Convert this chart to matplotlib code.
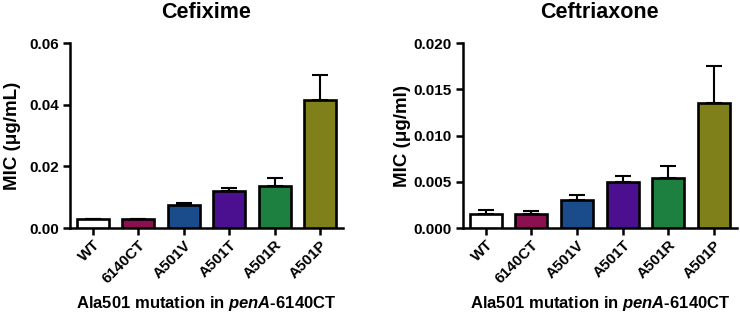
import matplotlib
matplotlib.use("Agg")
import matplotlib.pyplot as plt
import numpy as np

strains = ["WT", "6140CT", "A501V", "A501T", "A501R", "A501P"]
colors = ["#ffffff", "#8a1050", "#1a4c8c", "#4a1090", "#1e8040", "#80801a"]

cefixime_mic = [0.003, 0.003, 0.0074, 0.012, 0.0135, 0.0415]
cefixime_err = [0.0, 0.0, 0.0006, 0.001, 0.0026, 0.0083]

ceftriaxone_mic = [0.0015, 0.0015, 0.003, 0.005, 0.0054, 0.0135]
ceftriaxone_err = [0.0005, 0.0003, 0.0006, 0.0006, 0.0013, 0.004]

plt.rcParams["font.family"] = ["Liberation Sans", "DejaVu Sans"]
plt.rcParams["font.weight"] = "bold"
plt.rcParams["mathtext.fontset"] = "custom"
plt.rcParams["mathtext.rm"] = "Liberation Sans:bold"
plt.rcParams["mathtext.it"] = "Liberation Sans:italic:bold"
plt.rcParams["mathtext.bf"] = "Liberation Sans:bold"

fig = plt.figure(figsize=(7.4, 3.12), dpi=100)
ax1 = fig.add_axes([0.0946, 0.269, 0.369, 0.593])
ax2 = fig.add_axes([0.6257, 0.269, 0.370, 0.593])


def draw(ax, vals, errs, title, ylabel, yticks, ylim, fmt, ylab_x):
    x = np.arange(len(strains))
    ax.bar(x, vals, width=0.7, color=colors, edgecolor="black", linewidth=1.9, zorder=3)
    ax.errorbar(x, vals, yerr=[np.zeros(len(errs)), errs], fmt="none",
                ecolor="black", elinewidth=1.5, capsize=6, capthick=1.5, zorder=2)
    ax.set_xlim(-0.5, 5.5)
    ax.set_ylim(*ylim)
    ax.set_yticks(yticks)
    ax.set_yticklabels([fmt.format(t) for t in yticks], fontsize=11, fontweight="bold")
    ax.set_xticks(x)
    ax.set_xticklabels(strains, rotation=45, ha="right", rotation_mode="anchor",
                       fontsize=11, fontweight="bold")
    for s in ["top", "right"]:
        ax.spines[s].set_visible(False)
    for s in ["left", "bottom"]:
        ax.spines[s].set_linewidth(1.8)
    ax.tick_params(direction="out", length=5, width=1.8, pad=3)
    ax.tick_params(axis="x", pad=2)
    ax.set_title(title, fontsize=15.5, fontweight="bold", pad=18)
    ax.set_ylabel(ylabel, fontsize=13.5, fontweight="bold", va="center")
    ax.yaxis.set_label_coords(ylab_x, 0.5)
    ax.set_xlabel("Ala501 mutation in $\\it{penA}$-6140CT", fontsize=12,
                  fontweight="bold", va="center")
    ax.xaxis.set_label_coords(0.5, -0.405)


draw(ax1, cefixime_mic, cefixime_err, "Cefixime", "MIC (\u03bcg/mL)",
     [0.0, 0.02, 0.04, 0.06], (0, 0.06), "{:.2f}", -0.21)
draw(ax2, ceftriaxone_mic, ceftriaxone_err, "Ceftriaxone", "MIC (\u03bcg/ml)",
     [0.0, 0.005, 0.010, 0.015, 0.020], (0, 0.020), "{:.3f}", -0.22)

fig.savefig("out.png", dpi=100)
